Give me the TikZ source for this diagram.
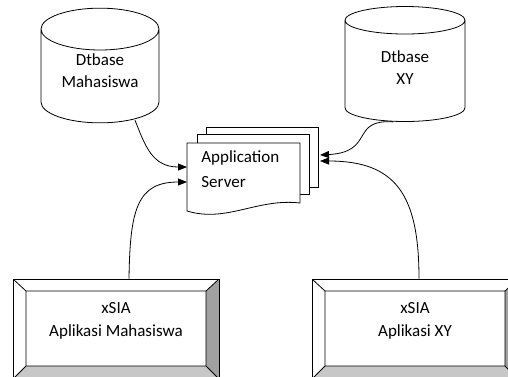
\documentclass[tikz,border=0pt]{standalone}
\usepackage{fontspec}
\setmainfont{Carlito}
\usetikzlibrary{
  shapes.geometric,
  arrows.meta,
  calc
}
\tikzset{
  >={Triangle[length=9pt,width=7pt]},
  link/.style={->},
  dbase/.style={cylinder, shape border rotate=90, aspect=0.5, draw, fill=white,
    anchor=shape center, minimum width=118pt, minimum height=112pt,
    align=center, text depth=18pt, font=\fontsize{17}{22}\selectfont},
  page/.style={draw, fill=white},
  server/.style={anchor=north west, inner xsep=14pt, inner ysep=7pt,
    text width=90pt, align=left, font=\fontsize{17}{25}\selectfont},
  bevelbox/.style={draw, fill=white, minimum width=206pt, minimum height=100pt,
    align=center, text depth=20pt, font=\fontsize{17}{23}\selectfont,
    path picture={
      \path (path picture bounding box.north west) coordinate (onw)
            (path picture bounding box.north east) coordinate (one)
            (path picture bounding box.south west) coordinate (osw)
            (path picture bounding box.south east) coordinate (ose);
      \path ([shift={(13pt,-12pt)}]onw) coordinate (inw)
            ([shift={(-13pt,-12pt)}]one) coordinate (ine)
            ([shift={(13pt,13pt)}]osw) coordinate (isw)
            ([shift={(-13pt,13pt)}]ose) coordinate (ise);
      \fill[black!37] (one) -- (ose) -- (ise) -- (ine) -- cycle;
      \fill[black!22] (osw) -- (ose) -- (ise) -- (isw) -- cycle;
      \draw (inw) rectangle (ise)
            (onw) -- (inw) (one) -- (ine) (osw) -- (isw) (ose) -- (ise);
    }}
}

\begin{document}
\begin{tikzpicture}[x=1pt, y=-1pt, line width=0.8pt]
  \useasboundingbox (0,0) rectangle (508,376);

  \node[dbase] (dbmhs) at (100,65.5) {Dtbase\\Mahasiswa};
  \node[dbase, minimum width=120pt, minimum height=115pt, text depth=11pt]
    (dbxy) at (405,64) {Dtbase\\XY};

  % stacked pages of the server
  \coordinate (srvnw) at (187,143);
  \draw[page, shift={(srvnw)}] (19,-16) rectangle (131,44);
  \draw[page, shift={(srvnw)}] (10,-9) rectangle (122,51);
  \draw[page, shift={(srvnw)}] (0,0) -- (113,0) -- (113,60)
    .. controls (70,55) and (40,80) .. (0,68) -- cycle;
  \node[server] (appsrv) at (srvnw) {Application\\Server};

  \node[bevelbox] (appmhs) at (116,329) {xSIA\\Aplikasi Mahasiswa};
  \node[bevelbox] (appxy) at (415,329) {xSIA\\Aplikasi XY};

  \draw[link] ($(dbmhs.south)+(35,-3)$) .. controls +(10,25) and +(-35,0)
    .. ($(appsrv.north west)+(0,24)$);
  \draw[link] ($(appmhs.north)+(13,0)$) .. controls +(1,-69) and +(-50,0)
    .. ($(appsrv.north west)+(0,39)$);
  \draw[link] ($(dbxy.south)+(-12,0)$) .. controls +(-43,-3) and +(55,-3)
    .. ($(appsrv.north west)+(133,12)$);
  \draw[link] ($(appxy.north)+(4,0)$) .. controls +(0,-85) and +(75,0)
    .. ($(appsrv.north west)+(133,18)$);
\end{tikzpicture}
\end{document}
